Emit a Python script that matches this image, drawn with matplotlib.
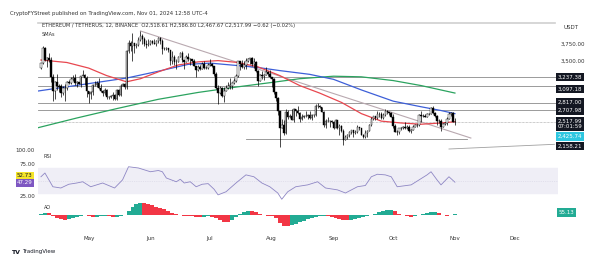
import numpy as np
import pandas as pd
import matplotlib
matplotlib.use("Agg")
import matplotlib.pyplot as plt

W, H = 600, 259


def fx(x):
    return x / W


def fy(y):
    return 1 - y / H


# daily candles, 7 Apr - 1 Nov 2024 (open = previous close)
first_open = 3380
closes = [
    # Apr 7-30
    3455, 3700, 3505, 3545, 3505, 3235, 3010, 3155, 3100, 3085, 2985, 3065, 3055, 3155, 3145, 3200,
    3220, 3140, 3155, 3130, 3255, 3265, 3215, 3015,
    # May
    2970, 2990, 3105, 3115, 3140, 3065, 3010, 2975, 3035, 2910, 2910, 2930, 2950, 2880, 3035, 2945,
    3095, 3120, 3070, 3660, 3790, 3740, 3780, 3730, 3750, 3830, 3890, 3845, 3770, 3750, 3760,
    # Jun
    3815, 3780, 3770, 3810, 3865, 3810, 3680, 3680, 3705, 3665, 3500, 3560, 3470, 3480, 3565, 3620,
    3510, 3480, 3560, 3520, 3520, 3490, 3420, 3350, 3390, 3370, 3450, 3380, 3380, 3430,
    # Jul
    3440, 3420, 3290, 3060, 2985, 3060, 2930, 3020, 3065, 3100, 3100, 3135, 3175, 3250, 3490, 3445,
    3390, 3430, 3500, 3520, 3535, 3440, 3480, 3340, 3175, 3275, 3250, 3270, 3320, 3280, 3230,
    # Aug
    3200, 2990, 2905, 2690, 2420, 2460, 2340, 2680, 2600, 2610, 2555, 2720, 2700, 2660, 2570, 2590,
    2615, 2610, 2635, 2575, 2630, 2625, 2765, 2770, 2750, 2680, 2460, 2530, 2530, 2525, 2510,
    # Sep
    2425, 2540, 2420, 2450, 2370, 2230, 2270, 2300, 2360, 2385, 2340, 2360, 2440, 2415, 2315, 2280,
    2340, 2370, 2460, 2560, 2610, 2580, 2645, 2650, 2580, 2630, 2700, 2680, 2660, 2600,
    # Oct
    2450, 2360, 2350, 2415, 2415, 2440, 2420, 2440, 2370, 2390, 2440, 2475, 2470, 2630, 2610, 2610,
    2600, 2645, 2650, 2745, 2665, 2620, 2525, 2535, 2440, 2480, 2505, 2570, 2640, 2660, 2520,
    # Nov 1
    2518,
]
highs = [
    3460, 3730, 3725, 3560, 3620, 3550, 3290, 3170, 3280, 3125, 3125, 3095, 3130, 3175, 3195, 3240,
    3265, 3290, 3175, 3165, 3260, 3355, 3290, 3250,
    3020, 3015, 3125, 3170, 3170, 3220, 3130, 3030, 3055, 3050, 2940, 2955, 2995, 2960, 3045, 3040,
    3120, 3145, 3140, 3670, 3830, 3810, 3950, 3760, 3790, 3880, 3975, 3925, 3880, 3830, 3845,
    3835, 3830, 3850, 3830, 3885, 3880, 3840, 3715, 3715, 3710, 3675, 3655, 3590, 3530, 3580, 3640,
    3650, 3510, 3590, 3630, 3545, 3525, 3520, 3420, 3430, 3430, 3475, 3490, 3410, 3460,
    3525, 3465, 3420, 3310, 3110, 3090, 3070, 3080, 3110, 3150, 3220, 3160, 3215, 3280, 3500, 3500,
    3515, 3490, 3545, 3540, 3545, 3560, 3540, 3490, 3345, 3290, 3330, 3280, 3400, 3340, 3350,
    3240, 3220, 3000, 2910, 2700, 2560, 2550, 2720, 2710, 2640, 2720, 2740, 2730, 2780, 2680, 2640,
    2630, 2690, 2650, 2690, 2640, 2650, 2800, 2820, 2790, 2760, 2700, 2560, 2600, 2540, 2540,
    2530, 2560, 2550, 2490, 2460, 2400, 2310, 2320, 2370, 2390, 2390, 2380, 2460, 2440, 2420, 2320,
    2390, 2380, 2480, 2590, 2620, 2620, 2700, 2670, 2670, 2660, 2725, 2705, 2680, 2670,
    2640, 2490, 2390, 2420, 2430, 2450, 2520, 2460, 2470, 2410, 2460, 2480, 2480, 2640, 2690, 2640,
    2640, 2660, 2660, 2760, 2770, 2680, 2625, 2560, 2560, 2500, 2510, 2590, 2680, 2680, 2670,
    2587,
]
lows = [
    3370, 3440, 3490, 3400, 3470, 3150, 2860, 2880, 3030, 2990, 2920, 2950, 2860, 3025, 3130, 3130,
    3180, 3110, 3075, 3120, 3075, 3250, 3115, 2910,
    2815, 2890, 2955, 3095, 3070, 3050, 3000, 2935, 2950, 2880, 2880, 2905, 2875, 2865, 2865, 2925,
    2930, 3085, 3050, 3045, 3630, 3650, 3500, 3620, 3710, 3740, 3820, 3770, 3740, 3700, 3730,
    3750, 3760, 3760, 3730, 3780, 3760, 3610, 3670, 3670, 3640, 3430, 3440, 3430, 3365, 3470, 3550,
    3480, 3360, 3470, 3500, 3435, 3485, 3410, 3240, 3340, 3350, 3370, 3370, 3370, 3360,
    3420, 3400, 3260, 3050, 2810, 2970, 2920, 2830, 3010, 3050, 3050, 3050, 3130, 3160, 3240, 3350,
    3380, 3370, 3370, 3485, 3450, 3420, 3380, 3320, 3090, 3170, 3200, 3190, 3300, 3250, 3220,
    3080, 2970, 2860, 2630, 2110, 2420, 2310, 2320, 2560, 2580, 2550, 2520, 2610, 2640, 2520, 2550,
    2585, 2600, 2560, 2570, 2540, 2590, 2610, 2740, 2740, 2670, 2440, 2420, 2510, 2440, 2505,
    2400, 2420, 2410, 2310, 2350, 2150, 2220, 2240, 2270, 2320, 2280, 2320, 2340, 2390, 2300, 2260,
    2260, 2280, 2370, 2450, 2540, 2540, 2570, 2590, 2560, 2560, 2610, 2650, 2630, 2590,
    2420, 2350, 2310, 2330, 2390, 2400, 2410, 2400, 2360, 2340, 2380, 2430, 2440, 2450, 2520, 2590,
    2590, 2590, 2630, 2640, 2640, 2600, 2460, 2500, 2370, 2430, 2470, 2460, 2570, 2610, 2510,
    2468,
]

# moving averages
red_dates = ['2024-04-07', '2024-04-20', '2024-05-01', '2024-05-10', '2024-05-20', '2024-05-27',
             '2024-06-05', '2024-06-15', '2024-06-25', '2024-07-05', '2024-07-15', '2024-07-25',
             '2024-08-05', '2024-08-15', '2024-08-25', '2024-09-05', '2024-09-15', '2024-09-25',
             '2024-10-05', '2024-10-15', '2024-10-25', '2024-11-01']
red_vals = [3510, 3470, 3380, 3260, 3160, 3210, 3320, 3430, 3480, 3500, 3470, 3400,
            3260, 3100, 2980, 2830, 2650, 2530, 2500, 2480, 2500, 2520]
blue_dates = ['2024-04-05', '2024-04-20', '2024-05-05', '2024-05-20', '2024-06-05', '2024-06-20',
              '2024-07-01', '2024-07-15', '2024-07-25', '2024-08-05', '2024-08-20', '2024-09-01',
              '2024-09-15', '2024-10-01', '2024-10-15', '2024-10-25', '2024-11-01']
blue_vals = [3010, 3080, 3150, 3220, 3330, 3440, 3460, 3420, 3390, 3340, 3280, 3200,
             3030, 2850, 2760, 2700, 2650]
green_dates = ['2024-04-05', '2024-04-25', '2024-05-15', '2024-06-05', '2024-06-25', '2024-07-15',
               '2024-08-01', '2024-08-15', '2024-09-01', '2024-09-15', '2024-10-01', '2024-10-15',
               '2024-11-01']
green_vals = [2420, 2580, 2730, 2880, 2990, 3080, 3150, 3210, 3250, 3240, 3180, 3100, 2980]

levels = [3237.38, 3097.18, 2817.00, 2707.98]
last_price = 2517.99
support_dates = ['2024-07-19', '2024-11-07']
support_vals = [2238, 2238]
trend_dates = ['2024-05-27', '2024-11-09']
trend_vals = [3975, 2259]
rising_dates = ['2024-10-29', '2024-12-21']
rising_vals = [2083, 2158.21]

rsi_dates = ['2024-04-07', '2024-04-09', '2024-04-13', '2024-04-17', '2024-04-21', '2024-04-25',
             '2024-04-28', '2024-05-02', '2024-05-08', '2024-05-14', '2024-05-18', '2024-05-21',
             '2024-05-26', '2024-06-01', '2024-06-05', '2024-06-07', '2024-06-09', '2024-06-14',
             '2024-06-16', '2024-06-18', '2024-06-21', '2024-06-24', '2024-06-27', '2024-06-30',
             '2024-07-03', '2024-07-05', '2024-07-09', '2024-07-14', '2024-07-19', '2024-07-23',
             '2024-07-27', '2024-07-31', '2024-08-04', '2024-08-06', '2024-08-09', '2024-08-13',
             '2024-08-19', '2024-08-24', '2024-08-28', '2024-09-03', '2024-09-07', '2024-09-13',
             '2024-09-17', '2024-09-20', '2024-09-23', '2024-09-27', '2024-09-30', '2024-10-03',
             '2024-10-10', '2024-10-14', '2024-10-18', '2024-10-20', '2024-10-23', '2024-10-25',
             '2024-10-29', '2024-11-01']
rsi_vals = [56, 62, 40, 38, 44, 46, 48, 40, 46, 38, 51, 72,
            70, 64, 66, 64, 54, 48, 52, 46, 48, 40, 44, 45,
            36, 27, 32, 46, 59, 56, 46, 40, 30, 20, 32, 40,
            43, 48, 38, 35, 30, 40, 42, 56, 60, 59, 56, 40,
            43, 51, 59, 64, 51, 43, 56, 47.29]

# awesome oscillator, one value every 2 days from 7 Apr
ao_vals = [60, 90, 70, -20, -110, -170, -200, -170, -120, -60, -20, 0,
           -50, -80, -60, -30, -20, -50, -70, -60, -20, 20, 180, 320,
           440, 520, 500, 460, 400, 340, 290, 230, 160, 90, 40, 10,
           -20, -30, -40, -60, -80, -70, -50, -60, -120, -200, -260, -270,
           -200, -90, 40, 130, 160, 150, 110, 40, -10, -20, -40, -130,
           -330, -430, -440, -400, -340, -280, -220, -170, -120, -70, -40, -30,
           -50, -90, -130, -160, -200, -210, -180, -140, -100, -80, -50, 0,
           60, 120, 170, 190, 200, 150, 60, -10, -40, -60, -50, -10,
           40, 80, 120, 130, 90, 20, -30, 10, 55]

month_ticks = ['2024-05-01', '2024-06-01', '2024-07-01', '2024-08-01', '2024-09-01',
               '2024-10-01', '2024-11-01', '2024-12-01']
month_labels = ['May', 'Jun', 'Jul', 'Aug', 'Sep', 'Oct', 'Nov', 'Dec']

plt.rcParams['font.family'] = ['DejaVu Sans']
fig = plt.figure(figsize=(6, 2.59), dpi=100)
fig.patch.set_facecolor('white')

xmin = pd.Timestamp('2024-04-05 12:30')
xmax = pd.Timestamp('2024-12-22 19:00')


def make_ax(top, bottom):
    a = fig.add_axes([fx(38), fy(bottom), fx(558) - fx(38), (bottom - top) / H])
    a.set_xlim(xmin, xmax)
    for s in a.spines.values():
        s.set_visible(False)
    a.set_yticks([])
    a.set_xticks([])
    a.patch.set_alpha(0)
    return a


# ---- price pane
ax = make_ax(22, 151)
ax.set_ylim(2051, 4119)

days = pd.date_range('2024-04-07', '2024-11-01', freq='D')
c = np.array(closes, float)
o = np.concatenate([[first_open], c[:-1]])
hi = np.maximum(np.array(highs, float), np.maximum(o, c))
lo = np.minimum(np.array(lows, float), np.minimum(o, c))

for lv in levels:
    ax.axhline(lv, color='#8a8a8a', lw=0.6, zorder=1)
ax.axhline(last_price, color='#9a9a9a', lw=0.5, ls=(0, (1, 1)), zorder=1)
ax.plot(pd.to_datetime(support_dates), support_vals, color='#8a8a8a', lw=0.6, zorder=1)
ax.plot(pd.to_datetime(trend_dates), trend_vals, color='#b9a9b0', lw=0.8, zorder=1)
ax.plot(pd.to_datetime(rising_dates), rising_vals, color='#a0a0a0', lw=0.6, zorder=1)

ax.plot(pd.to_datetime(green_dates), green_vals, color='#2ba35f', lw=0.9, zorder=2)
ax.plot(pd.to_datetime(blue_dates), blue_vals, color='#3d5fd8', lw=0.9, zorder=2)
ax.plot(pd.to_datetime(red_dates), red_vals, color='#e8474f', lw=0.9, zorder=2)

ax.vlines(days, lo, hi, color='black', lw=0.5, zorder=3)
up = c >= o
body_h = np.maximum(np.abs(c - o), 4)
ax.bar(days, body_h, bottom=np.minimum(o, c), width=0.75,
       color=np.where(up, 'white', 'black'), edgecolor='black', linewidth=0.3, zorder=4)

# ---- RSI pane
ax_rsi = make_ax(150, 203)
ax_rsi.set_ylim(70 - 35 / 0.625, 70 + 18 / 0.625)
ax_rsi.axhspan(30, 70, color='#efeef6', zorder=0)
ax_rsi.axhline(50, color='#d6d4e4', lw=0.4, ls=(0, (2, 2)))
ax_rsi.plot(pd.to_datetime(rsi_dates), rsi_vals, color='#8e86c4', lw=0.6)

# ---- AO pane
ax_ao = make_ax(203, 230)
ax_ao.set_ylim(-600, 480)
ao_days = pd.date_range('2024-04-07', '2024-11-01', freq='2D')
ao = np.array(ao_vals, float)
rising = np.concatenate([[True], np.diff(ao) >= 0])
ax_ao.bar(ao_days, ao, width=2.0, color=np.where(rising, '#22ab94', '#f23645'), linewidth=0)
ax_ao.set_xticks(pd.to_datetime(month_ticks))
ax_ao.set_xticklabels(month_labels, fontsize=4, color='#333333')
ax_ao.tick_params(axis='x', length=0, pad=4.5)

# ---- texts
txt = dict(fontsize=4, color='#333333', va='center')
fig.text(fx(10), fy(13), 'CryptoFYStreet published on TradingView.com, Nov 01, 2024 12:58 UTC-4',
         fontsize=3.85, color='#333333', va='center')
fig.add_artist(plt.Line2D([fx(38), fx(555)], [fy(22.5), fy(22.5)], color='#cfcfcf', lw=1.2))
fig.text(fx(42), fy(26), 'ETHEREUM / TETHERUS, 12, BINANCE  O2,518.61 H2,586.80 L2,467.67 C2,517.99 '
         '\u22120.62 (\u22120.02%)', fontsize=3.7, color='#333333', va='center')
fig.text(fx(42), fy(34.5), 'SMAs', fontsize=3.6, color='#333333', va='center')
fig.text(fx(44), fy(157), 'RSI', fontsize=3.6, color='#333333', va='center')
fig.text(fx(44), fy(207.5), 'AO', fontsize=3.6, color='#333333', va='center')

fig.text(fx(564), fy(27.5), 'USDT', **txt)
fig.text(fx(561), fy(44.5), '3,750.00', **txt)
fig.text(fx(561), fy(61), '3,500.00', **txt)

box = dict(boxstyle='square,pad=0.3', fc='#131722', ec='none')
for yy, s in [(77, '3,237.38'), (89, '3,097.18'), (102.5, '2,817.00'), (110.5, '2,707.98')]:
    fig.text(fx(558), fy(yy), s, fontsize=4, color='white', va='center', bbox=box)
fig.text(fx(558), fy(124), '2,517.99\n07:01:59', fontsize=4, color='white', va='center',
         linespacing=1.1, bbox=box)
fig.text(fx(558), fy(136.5), '2,425.74', fontsize=4, color='white', va='center',
         bbox=dict(boxstyle='square,pad=0.3', fc='#2fc7e0', ec='none'))
fig.text(fx(558), fy(146), '2,158.21', fontsize=4, color='white', va='center', bbox=box)

fig.text(fx(15), fy(150.5), '100.00', **txt)
fig.text(fx(20), fy(165), '75.00', **txt)
fig.text(fx(20), fy(197), '25.00', **txt)
fig.text(fx(17), fy(175.5), '52.73', fontsize=4, color='#131722', va='center',
         bbox=dict(boxstyle='square,pad=0.25', fc='#f5e52a', ec='none'))
fig.text(fx(17), fy(183), '47.29', fontsize=4, color='white', va='center',
         bbox=dict(boxstyle='square,pad=0.25', fc='#7e57c2', ec='none'))
fig.text(fx(559), fy(212.5), '55.13', fontsize=4, color='white', va='center',
         bbox=dict(boxstyle='square,pad=0.3', fc='#22ab94', ec='none'))

fig.text(fx(11), fy(252), 'TV', fontsize=4.5, color='#131722', weight='bold', va='center')
fig.text(fx(22), fy(252), 'TradingView', fontsize=4, color='#131722', va='center')

fig.savefig('out.png', dpi=100, facecolor='white')
